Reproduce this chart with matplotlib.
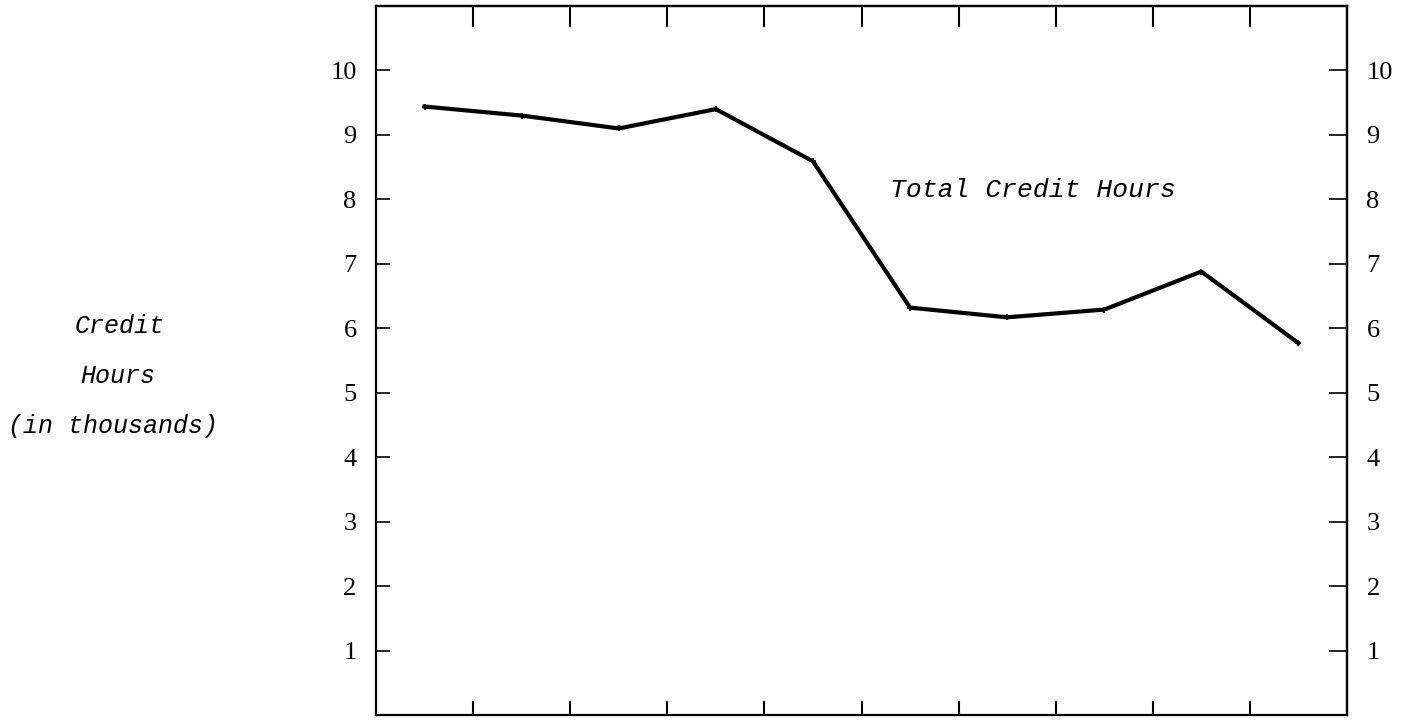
import matplotlib
matplotlib.use("Agg")
import matplotlib.pyplot as plt
import numpy as np

# Data (credit hours in thousands), ten consecutive periods
periods = list(range(10))
credit_hours = [9.44, 9.30, 9.10, 9.40, 8.59, 6.32, 6.17, 6.29, 6.88, 5.77]
y_ticks = [1, 2, 3, 4, 5, 6, 7, 8, 9, 10]
x_boundaries = [0.5, 1.5, 2.5, 3.5, 4.5, 5.5, 6.5, 7.5, 8.5]

W, H = 1411, 721
fig = plt.figure(figsize=(W / 100, H / 100), dpi=100)
fig.patch.set_facecolor("white")

left, right, top, bottom = 376, 1347, 6, 715
ax = fig.add_axes([left / W, 1 - bottom / H, (right - left) / W, (bottom - top) / H])

ax.plot(periods, credit_hours, color="black", linewidth=3.0, solid_joinstyle="round",
        marker="+", markersize=5, markeredgewidth=1.2)

ax.set_xlim(-0.5, 9.5)
ax.set_ylim(0, 11)

serif = dict(fontfamily="Liberation Serif", fontsize=19)

ax.set_yticks(y_ticks)
ax.set_yticklabels([str(v) for v in y_ticks], **serif)
ax.tick_params(axis="y", direction="in", length=10, width=1.2, left=True, right=False,
               labelleft=True, labelright=False, pad=14)

sec_r = ax.secondary_yaxis("right")
sec_r.set_yticks(y_ticks)
sec_r.set_yticklabels([str(v) for v in y_ticks], **serif)
sec_r.tick_params(axis="y", direction="in", length=13, width=1.2, pad=14)

ax.set_xticks(x_boundaries)
ax.set_xticklabels([])
ax.tick_params(axis="x", direction="in", length=10, width=1.5, top=False, bottom=True,
               labelbottom=False)

sec_t = ax.secondary_xaxis("top")
sec_t.set_xticks(x_boundaries)
sec_t.set_xticklabels([])
sec_t.tick_params(axis="x", direction="in", length=15, width=1.5)

for a in (ax, sec_r, sec_t):
    for s in a.spines.values():
        s.set_linewidth(1.6)
        s.set_color("black")

mono = dict(fontfamily="Liberation Mono", fontstyle="italic", color="black")
ax.text(6.27, 8.15, "Total Credit Hours", ha="center", va="center", fontsize=19, **mono)

fig.text(120 / W, 1 - 326 / H, "Credit", ha="center", va="center", fontsize=18, **mono)
fig.text(118 / W, 1 - 376 / H, "Hours", ha="center", va="center", fontsize=18, **mono)
fig.text(113 / W, 1 - 426 / H, "(in thousands)", ha="center", va="center", fontsize=18, **mono)

fig.savefig("out.png", dpi=100, facecolor="white")
